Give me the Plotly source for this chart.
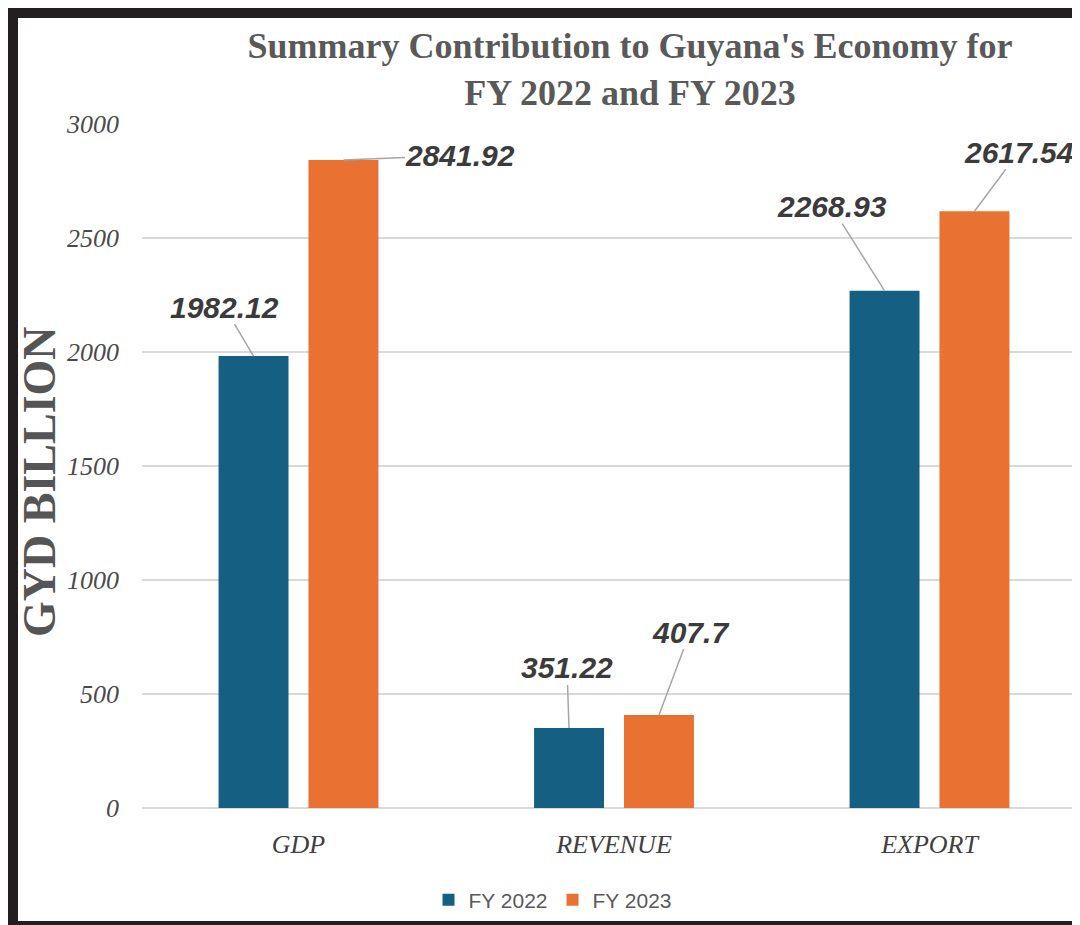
import plotly.graph_objects as go

CATEGORIES = ["GDP", "REVENUE", "EXPORT"]
SERIES = ["FY 2022", "FY 2023"]
FY2022 = [1982.12, 351.22, 2268.93]
FY2023 = [2841.92, 407.7, 2617.54]
Y_TICKS = [0, 500, 1000, 1500, 2000, 2500, 3000]

COLORS = {"FY 2022": "#156082", "FY 2023": "#E97132"}
SERIF = "Liberation Serif, Times New Roman, serif"
SANS = "Liberation Sans, Arial, sans-serif"

# callout text offsets (px) from bar top, per series then category
LABEL_OFFSETS = {
    "FY 2022": [(-29, -49), (-2, -60), (-53, -84)],
    "FY 2023": [(117, -5), (31, -83), (44, -59)],
}
BAR_SHIFT = {"FY 2022": -45, "FY 2023": 45}

# page body adds an 8px margin, so positions below are in figure pixels
W, H = 1080, 925
L, R, T, B = 134, 8, 116, 125
PW, PH = W - L - R, H - T - B


def px_to_paper(x, y):
    return (x - L) / PW, (H - B - y) / PH


fig = go.Figure()
for name, vals in zip(SERIES, [FY2022, FY2023]):
    fig.add_trace(
        go.Bar(
            name=name,
            x=CATEGORIES,
            y=vals,
            marker=dict(color=COLORS[name], line=dict(width=0)),
        )
    )

annotations = []
for name, vals in zip(SERIES, [FY2022, FY2023]):
    for cat, v, (ax, ay) in zip(CATEGORIES, vals, LABEL_OFFSETS[name]):
        annotations.append(
            dict(
                x=cat,
                y=v,
                xref="x",
                yref="y",
                xshift=BAR_SHIFT[name],
                text=f"<b><i>{v}</i></b>",
                font=dict(family=SANS, size=30, color="#3b3b3b"),
                showarrow=True,
                arrowhead=0,
                arrowwidth=1.5,
                arrowcolor="#a6a6a6",
                ax=ax,
                ay=ay,
                borderpad=0,
            )
        )

# y-axis title drawn as rotated text
tx, ty = px_to_paper(31, 474)
annotations.append(
    dict(
        x=tx,
        y=ty,
        xref="paper",
        yref="paper",
        xanchor="center",
        yanchor="middle",
        text="<b>GYD BILLION</b>",
        textangle=-90,
        showarrow=False,
        font=dict(family=SERIF, size=46, color="#555555"),
    )
)

fx0, fy0 = px_to_paper(5, 5)
fx1, fy1 = px_to_paper(1120, 918)

lx, ly = px_to_paper(545, 892)

fig.update_layout(
    width=W,
    height=H,
    margin=dict(l=L, r=R, t=T, b=B),
    paper_bgcolor="white",
    plot_bgcolor="white",
    barmode="group",
    bargap=0.43,
    bargroupgap=0.222,
    title=dict(
        text="<b>Summary Contribution to Guyana's Economy for<br>FY 2022 and FY 2023</b>",
        x=622 / W,
        xanchor="center",
        y=1 - 50 / H,
        yanchor="middle",
        font=dict(family=SERIF, size=36, color="#595959"),
    ),
    xaxis=dict(
        range=[-0.496, 2.477],
        showgrid=False,
        showline=False,
        zeroline=False,
        ticks="",
        tickfont=dict(family=SERIF, size=26, color="#404040", style="italic"),
        ticklabelstandoff=18,
    ),
    yaxis=dict(
        range=[0, 3000],
        tickvals=Y_TICKS,
        showgrid=True,
        gridcolor="#d9d9d9",
        gridwidth=2,
        zeroline=True,
        zerolinecolor="#d9d9d9",
        zerolinewidth=2,
        showline=False,
        ticks="",
        tickfont=dict(family=SERIF, size=26, color="#4a4a4a", style="italic"),
        ticklabelstandoff=22,
    ),
    legend=dict(
        orientation="h",
        x=lx,
        y=ly,
        xanchor="center",
        yanchor="middle",
        font=dict(family=SANS, size=21, color="#595959"),
        itemwidth=30,
        bgcolor="rgba(0,0,0,0)",
    ),
    annotations=annotations,
    shapes=[
        dict(
            type="rect",
            xref="paper",
            yref="paper",
            x0=fx0,
            y0=fy0,
            x1=fx1,
            y1=fy1,
            line=dict(color="#231f20", width=10),
            fillcolor="rgba(0,0,0,0)",
            layer="above",
        )
    ],
    showlegend=True,
)

fig.write_html("out.html")
